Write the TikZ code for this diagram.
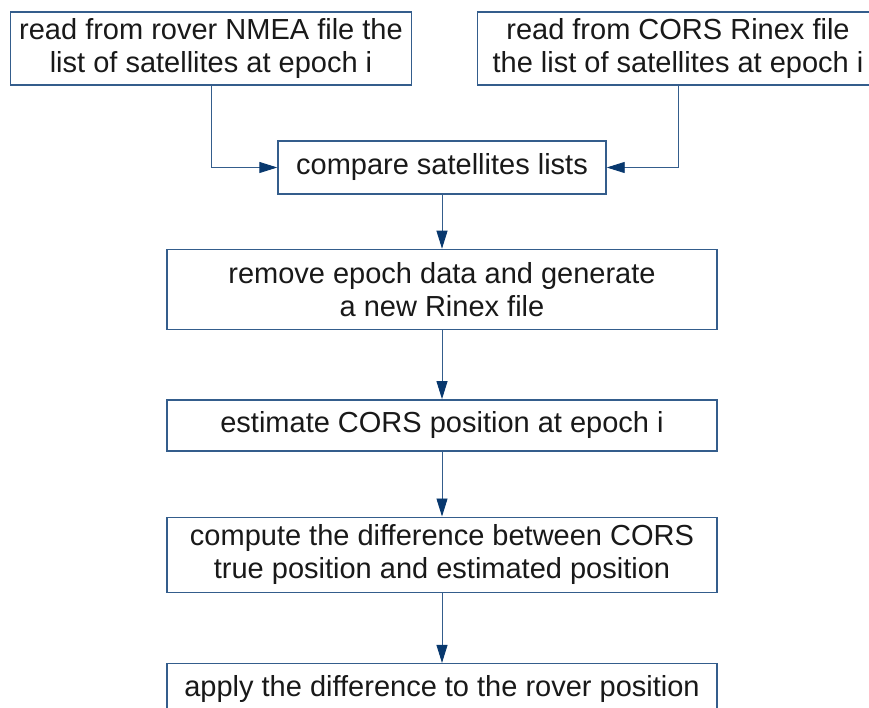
\documentclass[tikz,border=0pt]{standalone}
\usepackage{fontspec}
\setmainfont{Liberation Sans}
\usepackage{xcolor}
\usepackage{tikz}
\usetikzlibrary{arrows.meta,positioning}
\definecolor{flowblue}{RGB}{52,93,140}
\definecolor{tipblue}{RGB}{8,56,110}
\definecolor{flowtext}{RGB}{25,25,25}

\begin{document}
\begin{tikzpicture}[
  x=1pt, y=1pt,
  node distance=68pt,
  stepbox/.style={rectangle, draw=flowblue, line width=1.4pt, fill=white,
                  align=center, inner sep=0pt, text=flowtext,
                  font=\fontsize{29}{33}\selectfont},
  readbox/.style={stepbox, minimum width=401pt, minimum height=73pt},
  widebox/.style={stepbox, minimum width=550pt},
  arr/.style={-{Triangle[length=18pt,width=11pt,color=tipblue]},
              line width=0.9pt, flowblue}
]
\useasboundingbox (0,0) rectangle (869,-708);
\node[readbox] (rover) at (211,-48.5)
  {read from rover NMEA file the\\ list of satellites at epoch i};
\node[readbox] (cors) at (678,-48.5)
  {read from CORS Rinex file\\ the list of satellites at epoch i};
\node[stepbox, minimum width=328pt, minimum height=53pt] (cmp) at (442,-167.5)
  {compare satellites lists};
\node[widebox, minimum height=80pt, below=54pt of cmp] (rinex)
  {remove epoch data and generate\\ a new Rinex file};
\node[widebox, minimum height=51pt, below=69pt of rinex] (est)
  {estimate CORS position at epoch i};
\node[widebox, minimum height=75pt, below=65pt of est] (diff)
  {compute the difference between CORS\\ true position and estimated position};
\node[widebox, minimum height=51pt, below=70pt of diff] (apply)
  {apply the difference to the rover position};
\draw[arr] (rover) |- (cmp);
\draw[arr] (cors) |- (cmp);
\draw[arr] (cmp) -- (rinex);
\draw[arr] (rinex) -- (est);
\draw[arr] (est) -- (diff);
\draw[arr] (diff) -- (apply);
\end{tikzpicture}
\end{document}
